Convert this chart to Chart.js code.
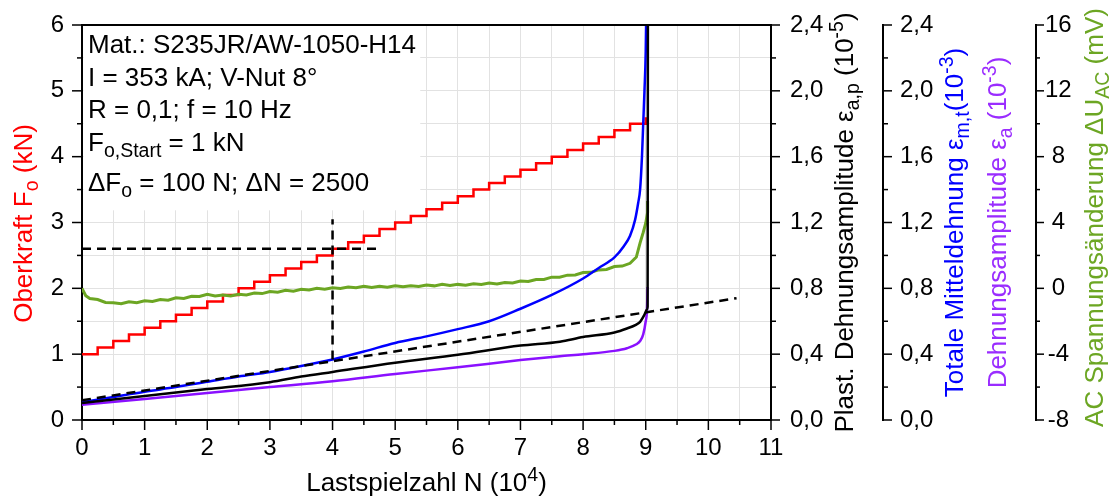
<!DOCTYPE html>
<html><head><meta charset="utf-8">
<script src="https://cdn.jsdelivr.net/npm/chart.js@4.4.1/dist/chart.umd.min.js"></script>
<style>html,body{margin:0;padding:0;background:#fff;}canvas{display:block;}</style>
</head><body>
<canvas id="c" width="1111" height="496"></canvas>
<script>
const FONT = '"Liberation Sans", Arial, Helvetica, sans-serif';

// ---- Data (N in 10^4 cycles) ----
// Oberkraft F_o (kN), step series
const redN = [0,0.25,0.5,0.75,1,1.25,1.5,1.75,2,2.25,2.5,2.75,3,3.25,3.5,3.75,4,4.25,4.5,4.75,5,5.25,5.5,5.75,6,6.25,6.5,6.75,7,7.25,7.5,7.75,8,8.25,8.5,8.75,9,9];
const redF = [1.0,1.1,1.2,1.3,1.4,1.5,1.6,1.7,1.8,1.9,2.0,2.1,2.2,2.3,2.4,2.5,2.6,2.7,2.8,2.9,3.0,3.1,3.2,3.3,3.4,3.5,3.6,3.7,3.8,3.9,4.0,4.1,4.2,4.3,4.4,4.5,4.5,4.6];

// Totale Mitteldehnung eps_m,t (10^-3)
const blueN = [0,0.5,1,1.5,2,2.5,3,3.5,4,4.5,5,5.5,6,6.5,7,7.5,8,8.25,8.5,8.65,8.75,8.83,8.88,8.91,8.94,8.96,8.98,9.0,9.01];
const blueE = [0.108,0.14,0.172,0.2,0.232,0.264,0.292,0.328,0.368,0.416,0.468,0.508,0.552,0.6,0.676,0.76,0.86,0.924,0.988,1.056,1.12,1.216,1.32,1.4,1.6,1.8,2.0,2.24,2.52];

// Plast. Dehnungsamplitude eps_a,p (10^-5)
const blackN = [0,1,2,3,3.5,4,5,6,7,7.63,8,8.5,8.7,8.85,8.91,8.98,9.02,9.03,9.035];
const blackE = [0.104,0.146,0.188,0.23,0.264,0.292,0.348,0.396,0.452,0.476,0.504,0.532,0.556,0.58,0.596,0.64,0.672,0.688,2.6];

// Dehnungsamplitude eps_a (10^-3)
const purpleN = [0,1,2,3,4,5,6,7,7.63,8,8.5,8.7,8.85,8.91,8.96,9.0,9.02,9.03];
const purpleE = [0.092,0.128,0.164,0.2,0.236,0.28,0.32,0.364,0.388,0.4,0.42,0.436,0.46,0.48,0.52,0.6,0.668,0.808];

// AC Spannungsaenderung dU_AC (mV)
const greenN = [0,0.06,0.125,0.25,0.375,0.5,0.625,0.75,0.875,1.0,1.125,1.25,1.375,1.5,1.625,1.75,1.875,2.0,2.125,2.25,2.375,2.5,2.625,2.75,2.875,3.0,3.125,3.25,3.375,3.5,3.625,3.75,3.875,4.0,4.125,4.25,4.375,4.5,4.625,4.75,4.875,5.0,5.125,5.25,5.375,5.5,5.625,5.75,5.875,6.0,6.125,6.25,6.375,6.5,6.625,6.75,6.875,7.0,7.125,7.25,7.375,7.5,7.625,7.75,7.875,8.0,8.125,8.25,8.375,8.5,8.625,8.75,8.85,8.91,8.96,9.0,9.03,9.03];
const greenU = [0.0,-0.45,-0.62,-0.68,-0.86,-0.88,-0.94,-0.82,-0.88,-0.76,-0.8,-0.68,-0.72,-0.58,-0.62,-0.48,-0.5,-0.36,-0.46,-0.4,-0.46,-0.36,-0.4,-0.28,-0.32,-0.2,-0.24,-0.12,-0.17,-0.06,-0.1,0.0,-0.05,0.04,-0.01,0.08,0.03,0.12,0.05,0.12,0.07,0.16,0.09,0.16,0.11,0.2,0.15,0.24,0.17,0.24,0.19,0.28,0.23,0.32,0.27,0.36,0.33,0.44,0.42,0.54,0.54,0.68,0.67,0.8,0.81,0.96,0.97,1.12,1.15,1.32,1.35,1.52,1.9,2.76,3.4,3.96,4.6,5.3];

// Dashed guide lines
const fitN = [0, 10.45];      // on eps_a,p axis
const fitE = [0.12, 0.74];
const hN = [0, 4.75];         // on F_o axis
const hF = [2.6, 2.6];
const vN = [4, 4];
const vF = [0.92, 3.05];

// Annotation text
const infoLines = [
  [{t:'Mat.: S235JR/AW-1050-H14'}],
  [{t:'I = 353 kA; V-Nut 8°'}],
  [{t:'R = 0,1; f = 10 Hz'}],
  [{t:'F'},{t:'o,Start',sub:1},{t:' = 1 kN'}],
  [{t:'ΔF'},{t:'o',sub:1},{t:' = 100 N; ΔN = 2500'}]
];

const pts = (xs, ys) => xs.map((x, i) => ({x, y: ys[i]}));
const SUBR = 0.75;

function fnt(sz){ return sz + 'px ' + FONT; }
function richWidth(ctx, segs, fs){
  let w = 0;
  for (const s of segs){ ctx.font = fnt((s.sub||s.sup) ? fs*SUBR : fs); w += ctx.measureText(s.t).width; }
  return w;
}
function drawRich(ctx, segs, x, y, fs, color, align){
  const w = richWidth(ctx, segs, fs);
  let cx = align === 'center' ? x - w/2 : x;
  ctx.textAlign = 'left'; ctx.textBaseline = 'alphabetic';
  for (const s of segs){
    const sz = (s.sub||s.sup) ? fs*SUBR : fs;
    ctx.font = fnt(sz);
    ctx.fillStyle = s.c || color;
    const dy = s.sub ? fs*0.22 : (s.sup ? -fs*0.38 : 0);
    ctx.fillText(s.t, cx, y + dy);
    cx += ctx.measureText(s.t).width;
  }
}
function drawRotated(ctx, segs, x, y, fs, color){
  ctx.save(); ctx.translate(x, y); ctx.rotate(-Math.PI/2);
  drawRich(ctx, segs, 0, 0, fs, color, 'center');
  ctx.restore();
}

const deco = {
  id: 'deco',
  beforeDatasetsDraw(chart){
    const {ctx, chartArea: a, scales: s} = chart;
    const r = s.x.getPixelForValue(5.4), b = s.yF.getPixelForValue(3.2);
    ctx.save(); ctx.fillStyle = '#fff';
    ctx.fillRect(a.left + 1.5, a.top + 1, r - a.left - 1.5, b - a.top);
    ctx.restore();
  },
  afterDraw(chart){
    const {ctx, chartArea: a, scales: s} = chart;
    ctx.save();
    // top frame line
    ctx.strokeStyle = '#000'; ctx.lineWidth = 2;
    ctx.beginPath(); ctx.moveTo(a.left - 1, a.top); ctx.lineTo(a.right + 1, a.top); ctx.stroke();
    // tick marks
    ctx.lineWidth = 1.5;
    const seg = (x1,y1,x2,y2) => { ctx.beginPath(); ctx.moveTo(x1,y1); ctx.lineTo(x2,y2); ctx.stroke(); };
    for (const t of s.x.ticks){ const p = s.x.getPixelForValue(t.value); seg(p, s.x.top, p, s.x.top + (Number.isInteger(t.value) ? 10 : 5)); }
    for (const t of s.yF.ticks){ const p = s.yF.getPixelForValue(t.value); seg(s.yF.right, p, s.yF.right - (Number.isInteger(t.value) ? 10 : 5), p); }
    for (const id of ['yP','yM']){
      for (const t of s[id].ticks){ const p = s[id].getPixelForValue(t.value); seg(s[id].left, p, s[id].left + (Math.round(t.value*10) % 4 === 0 ? 9 : 5), p); }
    }
    for (const t of s.yU.ticks){ const p = s.yU.getPixelForValue(t.value); seg(s.yU.left, p, s.yU.left + (Math.round(t.value) % 4 === 0 ? 8 : 4), p); }
    // axis titles
    const cy = (a.top + a.bottom) / 2;
    drawRotated(ctx, [{t:'Oberkraft F'},{t:'o',sub:1},{t:' (kN)'}], 32, cy + 1, 26, '#ff0000');
    drawRich(ctx, [{t:'Lastspielzahl N (10'},{t:'4',sup:1},{t:')'}], (a.left + a.right)/2, 491, 26, '#000', 'center');
    drawRotated(ctx, [{t:'Plast. Dehnungsamplitude ε'},{t:'a,p',sub:1},{t:' (10'},{t:'-5',sup:1},{t:')'}], 853, cy, 26, '#000');
    drawRotated(ctx, [{t:'Totale Mitteldehnung ε'},{t:'m,t',sub:1},{t:'(10'},{t:'-3',sup:1},{t:')'}], 963, cy, 26, '#0000ff');
    drawRotated(ctx, [{t:'Dehnungsamplitude ε'},{t:'a',sub:1},{t:' (10'},{t:'-3',sup:1},{t:')'}], 1006, cy, 26, '#9a2cff');
    drawRotated(ctx, [{t:'AC Spannungsänderung ΔU'},{t:'AC',sub:1},{t:' (mV)'}], 1103, cy - 5, 26, '#6ca623');
    // annotation
    const base = [28, 61, 93, 126, 166];
    infoLines.forEach((ln, i) => drawRich(ctx, ln, a.left + 6, a.top + base[i], 26, '#000', 'left'));
    ctx.restore();
  }
};

Chart.defaults.font.family = FONT;
Chart.defaults.color = '#000';

const gridCol = '#e2e2e2';
const fmt = v => v.toFixed(1).replace('.', ',');
const fixW = w => sc => { sc.width = w; sc.paddingTop = 0; sc.paddingBottom = 0; };

new Chart(document.getElementById('c'), {
  type: 'line',
  data: { datasets: [
    {label:'fit', data: pts(fitN, fitE), yAxisID:'yP', borderColor:'#000', borderDash:[9,6], borderWidth:2.5},
    {label:'h', data: pts(hN, hF), yAxisID:'yF', borderColor:'#000', borderDash:[9,6], borderWidth:2.5},
    {label:'v', data: pts(vN, vF), yAxisID:'yF', borderColor:'#000', borderDash:[9,6], borderWidth:2.5},
    {label:'eps_ap', data: pts(blackN, blackE), yAxisID:'yP', borderColor:'#000000', borderWidth:2.5, cubicInterpolationMode:'monotone'},
    {label:'eps_a', data: pts(purpleN, purpleE), yAxisID:'yM', borderColor:'#8a10ff', borderWidth:2.5, cubicInterpolationMode:'monotone'},
    {label:'eps_mt', data: pts(blueN, blueE), yAxisID:'yM', borderColor:'#0000ff', borderWidth:2.5, cubicInterpolationMode:'monotone'},
    {label:'dU', data: pts(greenN, greenU), yAxisID:'yU', borderColor:'#6ca623', borderWidth:3},
    {label:'F', data: pts(redN, redF), yAxisID:'yF', borderColor:'#ff0000', borderWidth:2.5, stepped:true}
  ]},
  options: {
    responsive: false, animation: false, devicePixelRatio: 1,
    layout: { padding: { top: 25, left: 0, right: 0, bottom: 0 } },
    plugins: { legend: { display: false }, tooltip: { enabled: false } },
    elements: { point: { radius: 0 }, line: { tension: 0, fill: false } },
    scales: {
      x: {
        type: 'linear', position: 'bottom', min: 0, max: 11,
        ticks: { stepSize: 0.5, autoSkip: false, maxRotation: 0, padding: 14, font: { size: 24 },
                 callback: v => Number.isInteger(v) ? String(v) : '' },
        grid: { color: gridCol, lineWidth: 1, drawTicks: false },
        border: { color: '#000', width: 2 },
        afterFit: sc => { sc.height = 76; sc.paddingLeft = 0; sc.paddingRight = 0; }
      },
      yF: {
        type: 'linear', position: 'left', min: 0, max: 6,
        ticks: { stepSize: 0.5, autoSkip: false, padding: 18, font: { size: 24 },
                 callback: v => Number.isInteger(v) ? String(v) : '' },
        grid: { color: gridCol, lineWidth: 1, drawTicks: false },
        border: { color: '#000', width: 2 },
        afterFit: fixW(82)
      },
      yP: {
        type: 'linear', position: 'right', min: 0, max: 2.4, weight: 0,
        ticks: { stepSize: 0.2, autoSkip: false, padding: 19, crossAlign: 'center', font: { size: 24 },
                 callback: v => Math.round(v*10) % 4 === 0 ? fmt(v) : '' },
        grid: { drawOnChartArea: false, drawTicks: false },
        border: { color: '#000', width: 2 },
        afterFit: fixW(112)
      },
      yM: {
        type: 'linear', position: 'right', min: 0, max: 2.4, weight: 1,
        ticks: { stepSize: 0.2, autoSkip: false, padding: 17, crossAlign: 'center', font: { size: 24 },
                 callback: v => Math.round(v*10) % 4 === 0 ? fmt(v) : '' },
        grid: { drawOnChartArea: false, drawTicks: false },
        border: { color: '#000', width: 2 },
        afterFit: fixW(153)
      },
      yU: {
        type: 'linear', position: 'right', min: -8, max: 16, weight: 2,
        ticks: { stepSize: 2, autoSkip: false, padding: 9, crossAlign: 'center', font: { size: 24 },
                 callback: v => Math.round(v) % 4 === 0 ? String(v) : '' },
        grid: { drawOnChartArea: false, drawTicks: false },
        border: { color: '#000', width: 2 },
        afterFit: fixW(75)
      }
    }
  },
  plugins: [deco]
});
</script>
</body></html>
